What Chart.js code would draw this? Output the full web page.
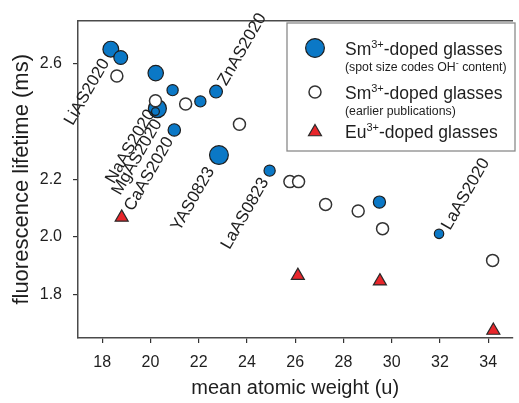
<!DOCTYPE html>
<html>
<head>
<meta charset="utf-8">
<script src="https://cdn.jsdelivr.net/npm/chart.js@4.4.0/dist/chart.umd.min.js"></script>
<style>
  html, body { margin: 0; padding: 0; background: #fff; overflow: hidden; width: 519px; height: 403px; }
  #wrap { position: absolute; left: 0; top: 0; width: 523px; height: 403px; }
</style>
</head>
<body>
<div id="wrap"><canvas id="c" width="523" height="403"></canvas></div>
<script>
// Sm3+-doped glasses of this work: mean atomic weight (u), lifetime (ms), relative OH- content
const smNewX  = [18.36, 18.77, 20.22, 20.92, 20.29, 20.21, 20.99, 22.07, 22.72, 22.84, 24.94, 29.49, 31.96];
const smNewY  = [2.651, 2.622, 2.568, 2.509, 2.445, 2.435, 2.371, 2.470, 2.504, 2.284, 2.230, 2.121, 2.011];
const smNewOH = [0.85, 0.75, 0.83, 0.62, 0.96, 0.45, 0.68, 0.62, 0.70, 1.00, 0.62, 0.67, 0.53];
const smNewNames = ['LiAS2020', '', '', '', 'NaAS2020', 'MgAS2020', 'CaAS2020', '', 'ZnAS2020', 'YAS0823', 'LaAS0823', '', 'LaAS2020'];

// Sm3+-doped glasses from earlier publications
const smOldX = [18.61, 20.21, 21.46, 23.69, 25.78, 26.14, 27.26, 28.61, 29.62, 34.18];
const smOldY = [2.558, 2.472, 2.461, 2.391, 2.192, 2.192, 2.113, 2.090, 2.029, 1.919];

// Eu3+-doped glasses
const euX = [18.81, 26.11, 29.51, 34.21];
const euY = [2.068, 1.866, 1.847, 1.676];

// axis ticks (2.4 is left unlabelled)
const xTicks = [18, 20, 22, 24, 26, 28, 30, 32, 34];
const yTicks = [1.8, 2.0, 2.2, 2.6];

const BLUE = '#0b78c6';
const RED = '#e8262b';
const INK = '#1e1e1e';
const FRAME = '#4a4a4a';
const FONT = "'Liberation Sans', Arial, Helvetica, sans-serif";

const toPoints = (xs, ys) => xs.map((x, i) => ({ x: x, y: ys[i] }));

// where each sample name sits relative to its spot (pixels), and which end touches it
const nameLayout = {
  'LiAS2020': { side: 'end',   dx: -5.2, dy: 11.0 },
  'NaAS2020': { side: 'end',   dx: -6.3, dy: 2.3 },
  'MgAS2020': { side: 'end',   dx: 2.7,  dy: 9.3 },
  'CaAS2020': { side: 'end',   dx: -4.5, dy: 8.5 },
  'ZnAS2020': { side: 'start', dx: 6.2,  dy: -7.4 },
  'YAS0823':  { side: 'end',   dx: -8.2, dy: 13.4 },
  'LaAS0823': { side: 'end',   dx: -4.6, dy: 8.6 },
  'LaAS2020': { side: 'start', dx: 7.0,  dy: -5.3 }
};

const sampleNames = {
  id: 'sampleNames',
  afterDatasetsDraw(chart) {
    const ctx = chart.ctx;
    const xs = chart.scales.x, ys = chart.scales.y;
    ctx.save();
    ctx.font = '17px ' + FONT;
    ctx.fillStyle = INK;
    ctx.textBaseline = 'middle';
    smNewNames.forEach((name, i) => {
      if (!name) return;
      const lay = nameLayout[name];
      const px = xs.getPixelForValue(smNewX[i]);
      const py = ys.getPixelForValue(smNewY[i]);
      ctx.save();
      ctx.translate(px + lay.dx, py + lay.dy);
      ctx.rotate(-60 * Math.PI / 180);
      ctx.textAlign = lay.side === 'end' ? 'right' : 'left';
      ctx.fillText(name, 0, 0);
      ctx.restore();
    });
    ctx.restore();
  }
};

function richText(ctx, parts, x, y) {
  let cx = x;
  parts.forEach(p => {
    ctx.font = p.size + 'px ' + FONT;
    ctx.fillText(p.t, cx, y - (p.rise || 0));
    cx += ctx.measureText(p.t).width;
  });
}

const legendBox = {
  id: 'legendBox',
  afterDraw(chart) {
    const ctx = chart.ctx;
    const ds = chart.data.datasets;
    const L = 287, T = 23, R = 515, B = 151;
    ctx.save();
    ctx.fillStyle = '#ffffff';
    ctx.fillRect(L, T, R - L, B - T);
    ctx.strokeStyle = '#8a8a8a';
    ctx.lineWidth = 1.3;
    ctx.strokeRect(L, T, R - L, B - T);

    const mx = 315;
    // filled blue spot
    ctx.beginPath();
    ctx.arc(mx, 48, 9.4, 0, Math.PI * 2);
    ctx.fillStyle = ds[0].backgroundColor;
    ctx.fill();
    ctx.lineWidth = ds[0].borderWidth;
    ctx.strokeStyle = ds[0].borderColor;
    ctx.stroke();
    // open circle
    ctx.beginPath();
    ctx.arc(mx, 92, 6, 0, Math.PI * 2);
    ctx.fillStyle = ds[1].backgroundColor;
    ctx.fill();
    ctx.lineWidth = ds[1].borderWidth;
    ctx.strokeStyle = ds[1].borderColor;
    ctx.stroke();
    // triangle
    const r = ds[2].pointRadius, ty = 132;
    ctx.beginPath();
    for (let k = 0; k < 3; k++) {
      const a = k * 2 * Math.PI / 3;
      const px = mx + Math.sin(a) * r, py = ty - Math.cos(a) * r;
      if (k === 0) ctx.moveTo(px, py); else ctx.lineTo(px, py);
    }
    ctx.closePath();
    ctx.fillStyle = ds[2].backgroundColor;
    ctx.fill();
    ctx.lineWidth = ds[2].borderWidth;
    ctx.strokeStyle = ds[2].borderColor;
    ctx.stroke();

    ctx.fillStyle = INK;
    ctx.textBaseline = 'alphabetic';
    ctx.textAlign = 'left';
    const tx = 345;
    richText(ctx, [{ t: 'Sm', size: 17.5 }, { t: '3+', size: 11, rise: 7 }, { t: '-doped glasses', size: 17.5 }], tx, 55);
    richText(ctx, [{ t: '(spot size codes OH', size: 12.3 }, { t: '-', size: 9, rise: 5 }, { t: ' content)', size: 12.3 }], tx, 71);
    richText(ctx, [{ t: 'Sm', size: 17.5 }, { t: '3+', size: 11, rise: 7 }, { t: '-doped glasses', size: 17.5 }], tx, 99);
    richText(ctx, [{ t: '(earlier publications)', size: 12.3 }], tx, 115);
    richText(ctx, [{ t: 'Eu', size: 17.5 }, { t: '3+', size: 11, rise: 7 }, { t: '-doped glasses', size: 17.5 }], tx, 138);
    ctx.restore();
  }
};

const tickGrid = {
  display: true,
  drawOnChartArea: false,
  drawTicks: true,
  tickLength: 5,
  color: '#333',
  lineWidth: 1.2
};

new Chart(document.getElementById('c'), {
  type: 'scatter',
  data: {
    datasets: [
      {
        label: 'Sm3+-doped glasses (spot size codes OH- content)',
        data: toPoints(smNewX, smNewY),
        pointRadius: smNewOH.map(v => v * 10 - 0.6),
        pointHoverRadius: smNewOH.map(v => v * 10 - 0.6),
        backgroundColor: BLUE,
        borderColor: '#1e1e1e',
        borderWidth: 1.2,
        order: 3
      },
      {
        label: 'Sm3+-doped glasses (earlier publications)',
        data: toPoints(smOldX, smOldY),
        pointRadius: 6,
        backgroundColor: '#ffffff',
        borderColor: '#333333',
        borderWidth: 1.5,
        order: 1
      },
      {
        label: 'Eu3+-doped glasses',
        data: toPoints(euX, euY),
        pointStyle: 'triangle',
        pointRadius: 7.5,
        backgroundColor: RED,
        borderColor: '#2a2a2a',
        borderWidth: 1.2,
        order: 2
      }
    ]
  },
  options: {
    responsive: false,
    animation: false,
    events: [],
    layout: { padding: 0 },
    plugins: { legend: { display: false }, tooltip: { enabled: false } },
    scales: {
      x: {
        type: 'linear',
        position: 'bottom',
        min: 17, max: 35,
        afterBuildTicks: s => { s.ticks = xTicks.map(v => ({ value: v })); },
        afterFit: s => { s.height = 65; },
        ticks: { padding: 10, color: INK, font: { family: FONT, size: 16 }, callback: v => String(v) },
        grid: tickGrid,
        border: { display: true, color: FRAME, width: 1.5 },
        title: { display: true, text: 'mean atomic weight (u)', color: INK, font: { family: FONT, size: 20 }, padding: { top: 0, bottom: 3 } }
      },
      xTop: {
        type: 'linear',
        position: 'top',
        min: 17, max: 35,
        afterFit: s => { s.height = 19.5; },
        ticks: { display: false },
        grid: { display: false, drawTicks: false },
        border: { display: true, color: FRAME, width: 1.5 }
      },
      y: {
        type: 'linear',
        position: 'left',
        min: 1.65, max: 2.75,
        afterBuildTicks: s => { s.ticks = yTicks.map(v => ({ value: v })); },
        afterFit: s => { s.width = 78; },
        ticks: { padding: 11, color: INK, font: { family: FONT, size: 16 }, callback: v => v.toFixed(1) },
        grid: tickGrid,
        border: { display: true, color: FRAME, width: 1.5 },
        title: { display: true, text: 'fluorescence lifetime (ms)', color: INK, font: { family: FONT, size: 22 }, padding: { top: 9, bottom: 0 } }
      }
    }
  },
  plugins: [sampleNames, legendBox]
});
</script>
</body>
</html>
